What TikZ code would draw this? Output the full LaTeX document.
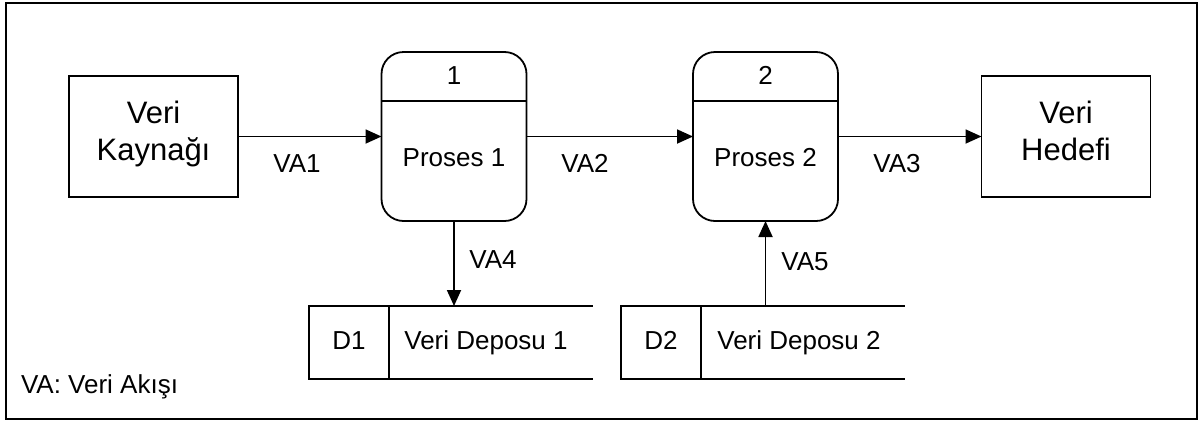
\documentclass[tikz,border=0pt]{standalone}
\usepackage{fontspec}
\setmainfont{Liberation Sans}
\usetikzlibrary{arrows.meta}
\begin{document}
\begin{tikzpicture}[x=1pt,y=-1pt,
  line width=1.8pt,
  every node/.style={outer sep=0pt, inner sep=0pt},
  txt/.style={font=\fontsize{26}{31}\selectfont, anchor=base},
  enttxt/.style={font=\fontsize{31}{37}\selectfont, anchor=base},
  entbox/.style={draw, rectangle, minimum width=169pt, minimum height=121pt},
  procbox/.style={draw, rectangle, rounded corners=22pt, minimum width=145pt, minimum height=169pt},
  idbox/.style={draw, rectangle, minimum width=80pt, minimum height=73pt},
  flow/.style={-{Triangle[length=16pt,width=14pt]}}
]
\useasboundingbox (0,0) rectangle (1198,421);
\draw (6,3) rectangle (1197,419);

% external entities
\node[entbox] (src) at (153.5,136.5) {};
\node[enttxt] (srcA) at (153.5,123) {Veri};
\node[enttxt] (srcB) at (153.5,160) {Kaynağı};
\node[entbox] (dst) at (1066,136.5) {};
\node[enttxt] (dstA) at (1066,123) {Veri};
\node[enttxt] (dstB) at (1066,160) {Hedefi};

% processes
\coordinate (hline) at (0,101);
\node[procbox] (p1) at (454,136.5) {};
\draw (p1.west |- hline) -- (p1.east |- hline);
\node[txt] (p1n) at (454,84) {1};
\node[txt] (p1t) at (454,166.5) {Proses 1};
\node[procbox] (p2) at (765.5,136.5) {};
\draw (p2.west |- hline) -- (p2.east |- hline);
\node[txt] (p2n) at (765.5,84) {2};
\node[txt] (p2t) at (765.5,166.5) {Proses 2};

% data stores
\node[idbox] (d1) at (349,342.5) {};
\node[txt] (d1n) at (349,349) {D1};
\draw (d1.north east) -- ++(204,0);
\draw (d1.south east) -- ++(204,0);
\node[txt] (d1t) at (486,349) {Veri Deposu 1};
\node[idbox] (d2) at (661,342.5) {};
\node[txt] (d2n) at (661,349) {D2};
\draw (d2.north east) -- ++(204,0);
\draw (d2.south east) -- ++(204,0);
\node[txt] (d2t) at (799,349) {Veri Deposu 2};

% flows
\draw[flow] (src.east) -- (p1.west);
\draw[flow] (p1.east) -- (p2.west);
\draw[flow] (p2.east) -- (dst.west);
\draw[flow] (p1.south) -- (p1.south |- d1.north);
\draw[flow] (p2.south |- d2.north) -- (p2.south);

\node[txt] (va1) at (297,172.5) {VA1};
\node[txt] (va2) at (585,172.5) {VA2};
\node[txt] (va3) at (897,172) {VA3};
\node[txt] (va4) at (493,268) {VA4};
\node[txt] (va5) at (805,270) {VA5};

\node[txt, anchor=base west] (legend) at (21,393) {VA: Veri Akışı};
\end{tikzpicture}
\end{document}
